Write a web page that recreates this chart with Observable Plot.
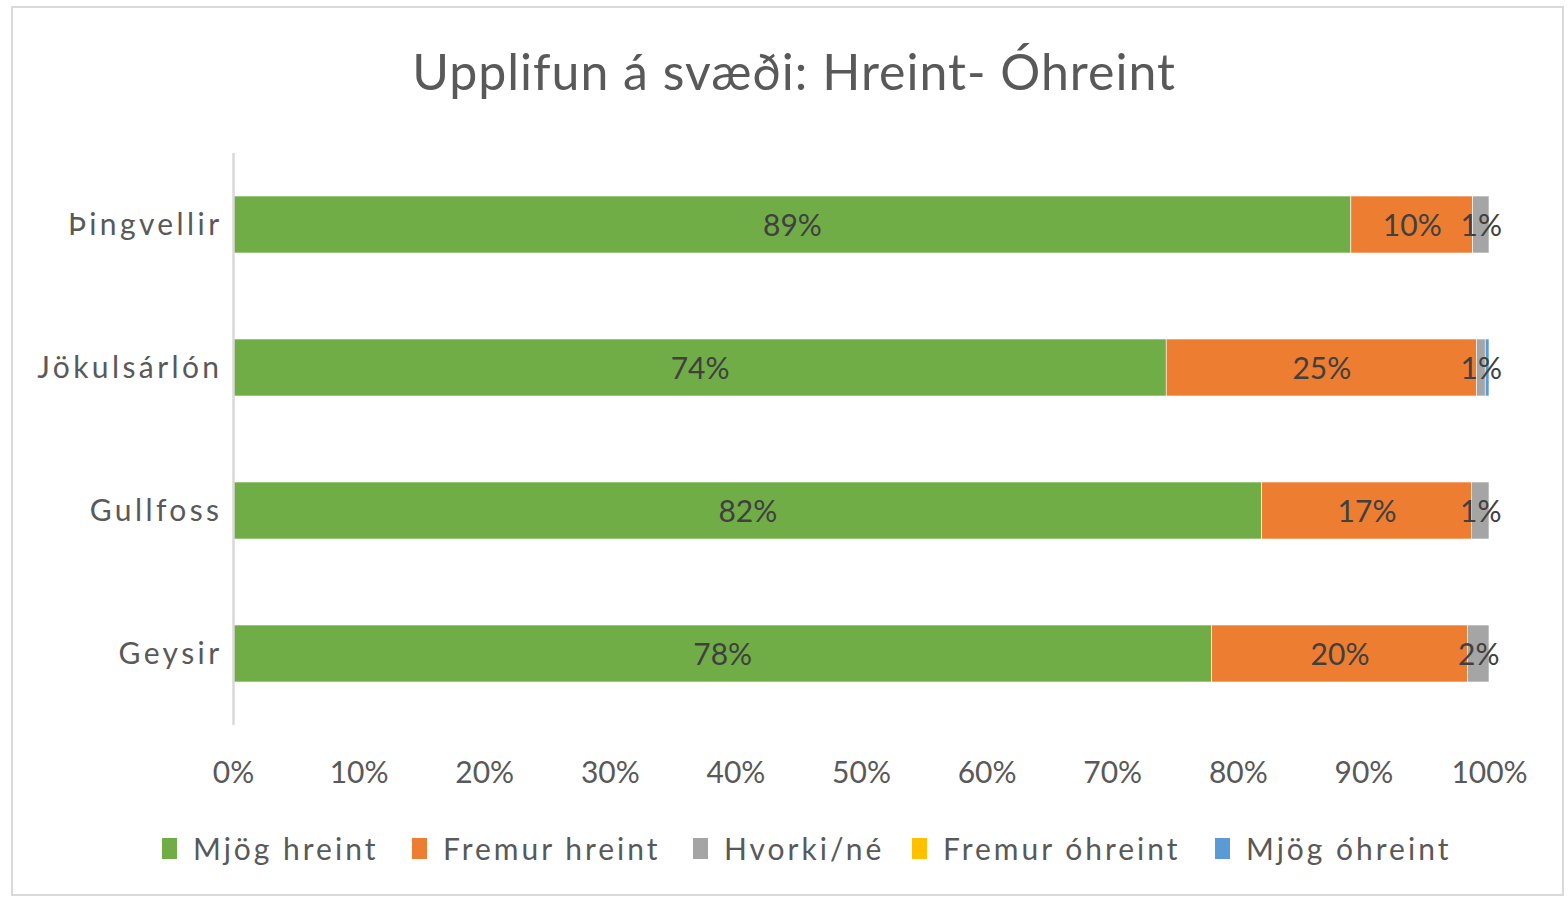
<!DOCTYPE html>
<html>
<head>
<meta charset="utf-8">
<script src="https://cdn.jsdelivr.net/npm/d3@7"></script>
<script src="https://cdn.jsdelivr.net/npm/@observablehq/plot@0.6"></script>
<style>
  html, body { margin: 0; padding: 0; background: #fff; }
  body { width: 1568px; height: 900px; position: relative; overflow: hidden; font-family: Lato, "Noto Sans", sans-serif; }
  #frame { position: absolute; left: 11px; top: 6px; width: 1553px; height: 890px; border: 2px solid #d9d9d9; box-sizing: border-box; }
  #title { position: absolute; left: 10px; width: 1568px; top: 38px; text-align: center; font-size: 50px; letter-spacing: 1px; color: #595959; line-height: 66px; }
  #chart { position: absolute; left: 0; top: 130px; }
  #chart [aria-label="y-axis tick label"] text { letter-spacing: 3.4px; }
  #legend { position: absolute; top: 828px; left: 0; width: 1568px; height: 40px; }
  .item { position: absolute; top: 0; display: flex; align-items: center; height: 40px; font-size: 30px; letter-spacing: 3px; color: #595959; white-space: nowrap; }
  .sw { width: 15px; height: 21px; margin-right: 16px; display: inline-block; }
</style>
</head>
<body>
<div id="frame"></div>
<div id="title">Upplifun á svæði: Hreint- Óhreint</div>
<div id="chart"></div>
<div id="legend"></div>
<script>
const sites = ["Þingvellir", "Jökulsárlón", "Gullfoss", "Geysir"];
const categories = ["Mjög hreint", "Fremur hreint", "Hvorki/né", "Fremur óhreint", "Mjög óhreint"];
const colors = ["#70AD47", "#ED7D31", "#A5A5A5", "#FFC000", "#5B9BD5"];
const mjogHreint    = [89.0, 74.3, 81.9, 77.9];
const fremurHreint  = [9.7, 24.7, 16.7, 20.4];
const hvorkiNe      = [1.3, 0.7, 1.4, 1.7];
const fremurOhreint = [0, 0, 0, 0];
const mjogOhreint   = [0, 0.3, 0, 0];
const xTicks = [0, 10, 20, 30, 40, 50, 60, 70, 80, 90, 100];

const series = [mjogHreint, fremurHreint, hvorkiNe, fremurOhreint, mjogOhreint];
const data = [];
sites.forEach((s, i) => {
  categories.forEach((c, j) => {
    data.push({site: s, cat: c, value: series[j][i]});
  });
});

const chart = Plot.plot({
  width: 1568,
  height: 680,
  marginTop: 23,
  marginBottom: 85,
  marginLeft: 233,
  marginRight: 79,
  style: {fontFamily: "Lato, 'Noto Sans', sans-serif", background: "transparent"},
  x: {domain: [0, 100], ticks: xTicks, tickFormat: d => d + "%"},
  y: {domain: sites, paddingInner: 0.6, paddingOuter: 0.3},
  color: {domain: categories, range: colors},
  marks: [
    Plot.barX(data, {x: "value", y: "site", fill: "cat", order: categories, stroke: "white", strokeWidth: 0.6}),
    Plot.ruleX([0], {stroke: "#d9d9d9", strokeWidth: 2.5}),
    Plot.text(data, Plot.stackX({
      x: "value", y: "site", z: "cat", order: categories,
      text: d => d.value >= 0.5 ? Math.round(d.value) + "%" : "",
      fill: "#404040", fontSize: 30, dy: 1
    })),
    Plot.axisX({ticks: xTicks, tickFormat: d => d + "%", tickSize: 0, tickPadding: 36, fontSize: 30, color: "#595959", label: null}),
    Plot.axisY({tickSize: 0, tickPadding: 11, fontSize: 30, color: "#595959", label: null})
  ]
});
document.getElementById("chart").appendChild(chart);

const legend = document.getElementById("legend");
const lefts = [162, 412, 693, 912, 1215];
categories.forEach((c, i) => {
  const it = document.createElement("div");
  it.className = "item";
  it.style.left = lefts[i] + "px";
  const sw = document.createElement("span");
  sw.className = "sw";
  sw.style.background = colors[i];
  it.appendChild(sw);
  it.appendChild(document.createTextNode(c));
  legend.appendChild(it);
});
</script>
</body>
</html>
